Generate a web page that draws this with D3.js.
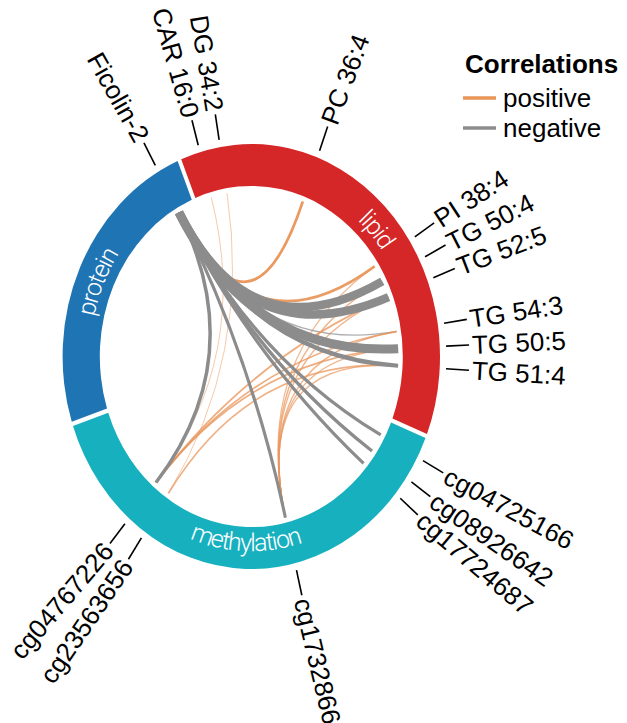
<!DOCTYPE html>
<html>
<head>
<meta charset="utf-8">
<script src="https://cdn.jsdelivr.net/npm/d3@7"></script>
<style>
  body { margin: 0; background: #fff; }
  svg { display: block; font-family: "Liberation Sans", Arial, sans-serif; }
</style>
</head>
<body>
<svg id="chart" width="627" height="723"></svg>
<script>
// Omics sectors (extent of each sector in track units, clockwise order)
const sectorNames  = ["lipid", "methylation", "protein"];
const sectorSizes  = [134.4, 139.5, 86.1];
const sectorColors = ["#d62728", "#17b0bf", "#1f74b3"];

// Features and their position inside their sector
const featureNames = [
  "CAR 16:0", "DG 34:2", "PC 36:4", "PI 38:4", "TG 50:4", "TG 52:5", "TG 54:3", "TG 50:5", "TG 51:4",
  "cg04725166", "cg08926642", "cg17724687", "cg17328660", "cg23563656", "cg04767226",
  "Ficolin-2"
];
const featureSectors = [
  "lipid", "lipid", "lipid", "lipid", "lipid", "lipid", "lipid", "lipid", "lipid",
  "methylation", "methylation", "methylation", "methylation", "methylation", "methylation",
  "protein"
];
const featurePositions = [6.6, 12.9, 42.9, 79.4, 85.4, 91.4, 103.7, 109.7, 115.6,
                          6.3, 12.8, 18.2, 54.6, 102.3, 108.4,
                          79.0];

// Correlation links between features
const linkSources = [
  "CAR 16:0", "DG 34:2",
  "TG 50:4", "TG 52:5", "TG 54:3", "TG 50:5", "TG 51:4", "PI 38:4",
  "TG 50:5", "TG 54:3", "TG 52:5", "TG 51:4",
  "Ficolin-2", "Ficolin-2",
  "Ficolin-2", "Ficolin-2", "Ficolin-2", "Ficolin-2", "Ficolin-2",
  "Ficolin-2", "Ficolin-2", "Ficolin-2", "Ficolin-2", "Ficolin-2"
];
const linkTargets = [
  "cg04767226", "cg23563656",
  "cg17328660", "cg17328660", "cg17328660", "cg17328660", "cg17328660", "cg17328660",
  "cg04767226", "cg04767226", "cg04767226", "cg23563656",
  "PC 36:4", "PI 38:4",
  "TG 54:3", "cg17328660", "cg04725166", "cg08926642", "cg17724687",
  "cg04767226", "TG 51:4", "TG 52:5", "TG 50:4", "TG 50:5"
];
const linkValues = [
  0.22, 0.22,
  0.27, 0.26, 0.27, 0.26, 0.26, 0.25,
  0.30, 0.29, 0.30, 0.28,
  0.38, 0.37,
  -0.26, -0.41, -0.42, -0.42, -0.42,
  -0.44, -0.50, -0.85, -0.86, -0.90
];

// Legend entries
const legendTitle  = "Correlations";
const legendLabels = ["positive", "negative"];
const legendColors = ["#e9955a", "#8c8c8c"];

// ---------------------------------------------------------------
const svg = d3.select("#chart");
const cx = 251.3, cy = 356.5;     // circle centre
const k  = 1.126;                 // vertical aspect of the plotting region
const rOuter = 188.7, rInner = 151.5, rLink = 147;
const startDeg = -22.4;

const total = d3.sum(sectorSizes);
const angle = d3.scaleLinear().domain([0, total]).range([startDeg, startDeg + 360]);
const sectorStart = {};
let acc = 0;
sectorNames.forEach((s, i) => { sectorStart[s] = acc; acc += sectorSizes[i]; });

const rad = d => d * Math.PI / 180;
const proj = (deg, r) => [cx + r * Math.sin(rad(deg)), cy - k * r * Math.cos(rad(deg))];

const featureAngle = {};
featureNames.forEach((f, i) => {
  featureAngle[f] = angle(sectorStart[featureSectors[i]] + featurePositions[i]);
});

// Ring of sectors
const ring = svg.append("g").attr("transform", `translate(${cx},${cy}) scale(1,${k})`);
const arc = d3.arc().innerRadius(rInner).outerRadius(rOuter).padAngle(0.016);
sectorNames.forEach((s, i) => {
  const a0 = angle(sectorStart[s]), a1 = angle(sectorStart[s] + sectorSizes[i]);
  ring.append("path")
    .attr("d", arc({ startAngle: rad(a0), endAngle: rad(a1) }))
    .attr("fill", sectorColors[i]);
});

// Sector names along the ring
const arcLine = d3.line();
sectorNames.forEach((s, i) => {
  const a0 = angle(sectorStart[s]), a1 = angle(sectorStart[s] + sectorSizes[i]);
  const mid = (a0 + a1) / 2;
  const bottom = Math.cos(rad(mid)) < 0;
  const r = bottom ? 173 : 161;
  const pts = d3.range(0, 101).map(j => {
    const t = j / 100;
    const a = bottom ? a1 + (a0 - a1) * t : a0 + (a1 - a0) * t;
    return proj(a, r);
  });
  svg.append("path").attr("id", "sec-" + s).attr("d", arcLine(pts)).attr("fill", "none");
  svg.append("text")
    .attr("font-family", "Roboto, 'Liberation Sans', sans-serif")
    .attr("font-weight", 300)
    .attr("font-size", 25)
    .attr("letter-spacing", -1.3)
    .attr("fill", "#fff")
    .append("textPath")
    .attr("href", "#sec-" + s)
    .attr("startOffset", "50%")
    .attr("text-anchor", "middle")
    .text(s);
});

// Links
const width = d3.scaleLinear().domain([0.2, 0.9]).range([0.6, 9]).clamp(true);
const alpha = d3.scaleLinear().domain([0.2, 0.4]).range([0.55, 1]).clamp(true);
const links = linkSources.map((s, i) => ({ s, t: linkTargets[i], v: linkValues[i] }))
  .sort((a, b) => Math.abs(a.v) - Math.abs(b.v));
svg.append("g").attr("fill", "none").selectAll("path")
  .data(links).join("path")
  .attr("d", d => {
    const p0 = proj(featureAngle[d.s], rLink), p1 = proj(featureAngle[d.t], rLink);
    return `M${p0[0]},${p0[1]}Q${cx},${cy} ${p1[0]},${p1[1]}`;
  })
  .attr("stroke", d => d.v > 0 ? legendColors[0] : legendColors[1])
  .attr("stroke-width", d => width(Math.abs(d.v)))
  .attr("stroke-opacity", d => alpha(Math.abs(d.v)));

// Feature ticks and labels
const labels = svg.append("g");
featureNames.forEach(f => {
  const a = featureAngle[f];
  const p0 = proj(a, 195), p1 = proj(a, 218), pt = proj(a, 221);
  labels.append("line")
    .attr("x1", p0[0]).attr("y1", p0[1]).attr("x2", p1[0]).attr("y2", p1[1])
    .attr("stroke", "#000").attr("stroke-width", 1.6);
  const right = Math.sin(rad(a)) >= 0;
  const rot = right ? a - 90 : a + 90;
  labels.append("text")
    .attr("transform", `translate(${pt[0]},${pt[1]}) rotate(${rot})`)
    .attr("text-anchor", right ? "start" : "end")
    .attr("dy", "0.35em")
    .attr("font-size", 26)
    .attr("fill", "#000")
    .text(f);
});

// Legend
const legend = svg.append("g");
legend.append("text").attr("x", 465).attr("y", 73)
  .attr("font-size", 26).attr("font-weight", "bold").text(legendTitle);
legendLabels.forEach((l, i) => {
  const y = 98 + i * 30;
  legend.append("line").attr("x1", 463).attr("x2", 496).attr("y1", y).attr("y2", y)
    .attr("stroke", legendColors[i]).attr("stroke-width", 3.5);
  legend.append("text").attr("x", 503).attr("y", y + 9)
    .attr("font-size", 26).text(l);
});
</script>
</body>
</html>
